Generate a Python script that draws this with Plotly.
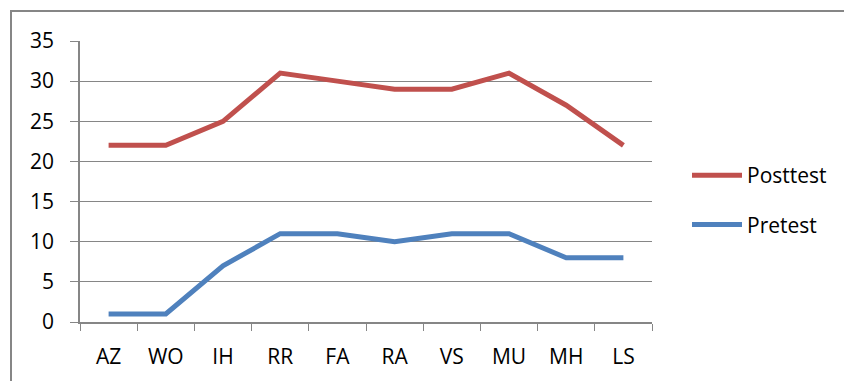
import plotly.graph_objects as go

categories = ["AZ", "WO", "IH", "RR", "FA", "RA", "VS", "MU", "MH", "LS"]
posttest = [22, 22, 25, 31, 30, 29, 29, 31, 27, 22]
pretest = [1, 1, 7, 11, 11, 10, 11, 11, 8, 8]
y_ticks = [0, 5, 10, 15, 20, 25, 30, 35]

# page body has an 8px margin; work in figure coordinates
OFF = 8
W, H = 852 - OFF, 381 - OFF
L, T = 80 - OFF, 41 - OFF
R, B = W - (652 - OFF), H - (322 - OFF)
pw, ph = W - L - R, H - T - B

fig = go.Figure()
fig.add_trace(go.Scatter(x=categories, y=posttest, name="Posttest", mode="lines",
                         line=dict(color="#C0504D", width=5), legendgroup="a"))
fig.add_trace(go.Scatter(x=categories, y=pretest, name="Pretest", mode="lines",
                         line=dict(color="#4F81BD", width=5), legendgroup="b"))

font = dict(family="Open Sans, Liberation Sans, sans-serif", size=21, color="#000000")

fig.update_layout(
    width=W, height=H,
    margin=dict(l=L, r=R, t=T, b=B, pad=0),
    paper_bgcolor="white", plot_bgcolor="white",
    font=font,
    xaxis=dict(range=[-0.5, 9.5], tickmode="array", tickvals=list(range(10)), ticktext=categories,
               showline=True, linecolor="#868686", linewidth=1.5,
               ticks="outside", tickson="boundaries", ticklen=7, tickcolor="#868686",
               ticklabelstandoff=15,
               showgrid=False, zeroline=False, tickfont=font),
    yaxis=dict(range=[0, 35], tickvals=y_ticks, showline=True, linecolor="#868686", linewidth=1.5,
               ticks="outside", ticklen=8, tickcolor="#868686", ticklabelstandoff=12,
               showgrid=True, gridcolor="#868686", gridwidth=1, zeroline=False, tickfont=font),
    showlegend=True,
    legend=dict(x=(679 - L) / pw, y=1 - (147 - T) / ph, xanchor="left", yanchor="top",
                font=font, tracegroupgap=19, bgcolor="rgba(0,0,0,0)", itemwidth=50),
    shapes=[dict(type="rect", xref="paper", yref="paper",
                 x0=(11 - OFF - L) / pw, x1=(W + 20 - L) / pw,
                 y0=1 + (T - (H + 20)) / ph, y1=1 + (T - (11 - OFF)) / ph,
                 line=dict(color="#868686", width=2), fillcolor="rgba(0,0,0,0)", layer="below")],
)

fig.write_html("out.html")
